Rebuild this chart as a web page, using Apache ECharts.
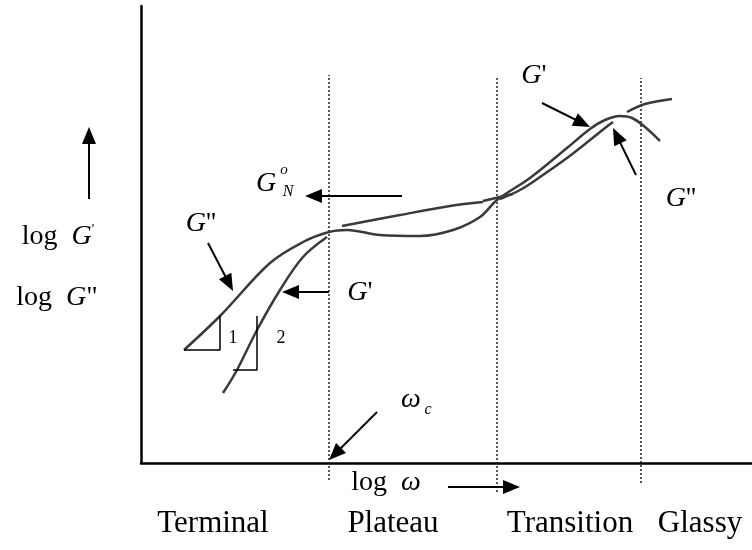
<!DOCTYPE html>
<html>
<head>
<meta charset="utf-8">
<script src="https://cdn.jsdelivr.net/npm/echarts@6/dist/echarts.min.js"></script>
<style>
  html, body { margin: 0; padding: 0; background: #fff; }
  #chart { width: 752px; height: 550px; }
</style>
</head>
<body>
<div id="chart"></div>
<script>
// Viscoelastic spectrum sketch: log G' and log G'' against log ω.
// Both axes are in decades measured from the plot origin.

// Main modulus curve (G'' at low ω, G' through transition and into the peak)
const mainCurve = [[0.43,1.13],[0.79,1.47],[1.29,2.00],[1.62,2.21],[1.88,2.31],[2.06,2.33],[2.39,2.28],[2.79,2.27],[3.12,2.33],[3.39,2.46],[3.56,2.63],[3.89,2.85],[4.26,3.15],[4.49,3.34],[4.64,3.43],[4.79,3.47],[4.91,3.45],[5.04,3.36],[5.19,3.22]];
// Steep terminal branch (slope 2)
const terminalSteep = [[0.82,0.70],[0.96,0.93],[1.16,1.33],[1.39,1.73],[1.62,2.06],[1.86,2.26]];
// Upper plateau branch and its short continuation
const plateauUpper = [[2.01,2.37],[2.59,2.48],[3.09,2.57],[3.42,2.61]];
const plateauTail = [[3.42,2.62],[3.72,2.69]];
// Lower branch through the transition zone
const transitionLower = [[3.59,2.64],[3.79,2.73],[3.99,2.86],[4.26,3.05],[4.49,3.23],[4.64,3.35],[4.72,3.41]];
// Glassy branch
const glassyBranch = [[4.86,3.51],[5.04,3.59],[5.31,3.64]];

// Slope triangles
const slopeOne = [[0.43,1.13],[0.79,1.13],[0.79,1.47]];
const slopeTwo = [[1.16,1.47],[1.16,0.93],[0.92,0.93]];
const slopeTexts = ['1', '2'];
const slopeTextPos = [[0.92,1.25],[1.40,1.25]];

// Region boundaries (log ω) and their vertical extent
const regionBounds = [1.88, 3.56, 5.00];
const boundTop = [3.88, 3.86, 3.85];
const boundBottom = [-0.17, -0.29, -0.20];

// Region names below the axis
const regionNames = ['Terminal', 'Plateau', 'Transition', 'Glassy'];
const regionNameX = [0.72, 2.52, 4.29, 5.59];
const regionNameY = -0.61;

// Arrows: [from, tip]
const arrows = [
  [[-0.52,2.64],[-0.52,3.36]],  // log G increasing
  [[2.61,2.67],[1.64,2.67]],    // plateau modulus
  [[0.67,2.20],[0.92,1.72]],    // G'' terminal
  [[1.88,1.71],[1.41,1.71]],    // G' terminal
  [[2.36,0.51],[1.88,0.03]],    // crossover ω_c
  [[3.07,-0.24],[3.79,-0.24]],  // log ω increasing
  [[4.01,3.60],[4.49,3.36]],    // G' transition
  [[4.95,2.88],[4.72,3.35]]     // G'' peak
];

// Annotation text anchors
const annoKeys = ['logGp', 'logGpp', 'Gpp1', 'Gp1', 'GN', 'GNo', 'GNN', 'omega', 'omegaSub', 'logOmega', 'Gp2', 'Gpp2'];
const annoPos = [[-0.83,2.26],[-0.84,1.65],[0.60,2.39],[2.19,1.70],[1.25,2.79],[1.43,2.93],[1.47,2.71],[2.70,0.63],[2.87,0.53],[2.45,-0.20],[3.93,3.87],[5.40,2.64]];

const SERIF = '"Liberation Serif", "Times New Roman", serif';
const BIG = 28;

const rich = {
  r:  { fontFamily: SERIF, fontSize: BIG, color: '#000', verticalAlign: 'bottom' },
  i:  { fontFamily: SERIF, fontSize: BIG, fontStyle: 'italic', color: '#000', verticalAlign: 'bottom' },
  s:  { fontFamily: SERIF, fontSize: 14, color: '#000', verticalAlign: 'top' }
};

const annoFormat = {
  logGp:    "{r|log  }{i|G}{s|'}",
  logGpp:   "{r|log  }{i|G}{r|\"}",
  Gpp1:     "{i|G}{r|''}",
  Gp1:      "{i|G}{r|'}",
  GN:       "{i|G}",
  GNo:      "{s|o}",
  GNN:      "{s|N}",
  omega:    "{i|ω}",
  omegaSub: "{s|c}",
  logOmega: "{r|log  }{i|ω}",
  Gp2:      "{i|G}{r|'}",
  Gpp2:     "{i|G}{r|''}"
};

const italicSmall = { GNo: true, GNN: true, omegaSub: true };

const annoData = annoKeys.map((k, n) => ({
  value: annoPos[n],
  label: {
    formatter: annoFormat[k],
    rich: italicSmall[k]
      ? { s: { fontFamily: SERIF, fontSize: k === 'GNo' ? 15 : 16, fontStyle: 'italic', color: '#000' } }
      : rich
  }
}));

const regionData = regionNames.map((t, n) => ({
  value: [regionNameX[n], regionNameY],
  label: { formatter: t }
}));

const slopeData = slopeTexts.map((t, n) => ({
  value: slopeTextPos[n],
  label: { formatter: t }
}));

// Pull each arrow end back so the head's tip lands on the given point
const HEAD = 0.085;
const arrowLines = arrows.map(([a, b]) => {
  const dx = b[0] - a[0], dy = b[1] - a[1];
  const len = Math.hypot(dx, dy);
  return [{ coord: a }, { coord: [b[0] - dx / len * HEAD, b[1] - dy / len * HEAD] }];
});

const curveStyle = { color: '#3a3a3a', width: 2.5 };
const curve = (data, smooth) => ({
  type: 'line', xAxisIndex: 1, yAxisIndex: 1, data, smooth,
  symbol: 'none', lineStyle: curveStyle, silent: true, animation: false
});

const boundSeries = regionBounds.map((x, n) => ({
  type: 'line', xAxisIndex: 1, yAxisIndex: 1,
  data: [[x, boundBottom[n]], [x, boundTop[n]]],
  symbol: 'none', silent: true, animation: false,
  lineStyle: { color: '#222', width: 1.5, type: [2, 2] }
}));

const textSeries = (data, extra) => ({
  type: 'scatter', xAxisIndex: 1, yAxisIndex: 1, data,
  symbolSize: 1, itemStyle: { color: 'rgba(0,0,0,0)', opacity: 1 },
  silent: true, animation: false,
  label: Object.assign({ show: true, position: 'inside', color: '#000', fontFamily: SERIF }, extra)
});

const chart = echarts.init(document.getElementById('chart'), null, { renderer: 'canvas' });
chart.setOption({
  animation: false,
  backgroundColor: '#fff',
  grid: [
    { left: 141, top: 6, right: 0, bottom: 87 },
    { left: 0, top: 0, right: 0, bottom: 0 }
  ],
  xAxis: [
    { gridIndex: 0, type: 'value', min: 0, max: 6.11,
      axisLine: { show: true, onZero: false, lineStyle: { color: '#000', width: 2.5 } },
      axisTick: { show: false }, axisLabel: { show: false }, splitLine: { show: false } },
    { gridIndex: 1, type: 'value', min: -1.41, max: 6.11, show: false }
  ],
  yAxis: [
    { gridIndex: 0, type: 'value', min: 0, max: 4.57,
      axisLine: { show: true, onZero: false, lineStyle: { color: '#000', width: 2.5 } },
      axisTick: { show: false }, axisLabel: { show: false }, splitLine: { show: false } },
    { gridIndex: 1, type: 'value', min: -0.87, max: 4.63, show: false }
  ],
  series: [
    ...boundSeries,
    curve(mainCurve, 0.35),
    curve(terminalSteep, 0.35),
    curve(plateauUpper, 0.35),
    curve(plateauTail, false),
    curve(transitionLower, 0.35),
    curve(glassyBranch, 0.35),
    {
      type: 'line', xAxisIndex: 1, yAxisIndex: 1, data: slopeOne, symbol: 'none',
      lineStyle: { color: '#000', width: 1.5 }, silent: true, animation: false
    },
    {
      type: 'line', xAxisIndex: 1, yAxisIndex: 1, data: slopeTwo, symbol: 'none',
      lineStyle: { color: '#000', width: 1.5 }, silent: true, animation: false
    },
    Object.assign(textSeries(annoData, {}), {
      markLine: {
        silent: true, animation: false,
        symbol: ['none', 'triangle'], symbolSize: [14, 17],
        label: { show: false },
        emphasis: { disabled: true },
        lineStyle: { color: '#000', width: 2, type: 'solid', opacity: 1 },
        itemStyle: { color: '#000', opacity: 1 },
        data: arrowLines
      }
    }),
    textSeries(regionData, { fontSize: 31 }),
    textSeries(slopeData, { fontSize: 18 })
  ]
});
</script>
</body>
</html>
